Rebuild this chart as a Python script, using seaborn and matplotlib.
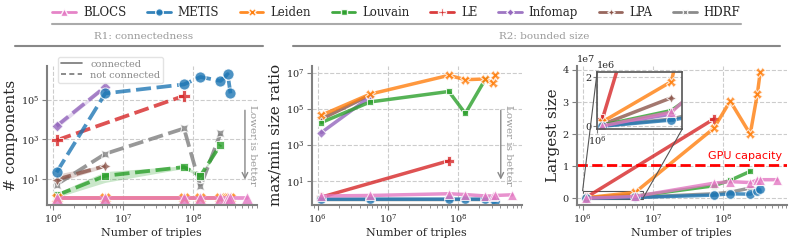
import numpy as np
import pandas as pd
import seaborn as sns
import matplotlib.pyplot as plt
from matplotlib.lines import Line2D
from mpl_toolkits.axes_grid1.inset_locator import mark_inset

# ---------------- data ----------------
triples = [1.13e6, 5.6e6, 7.4e7, 1.27e8, 2.45e8, 3.1e8, 3.4e8, 5.9e8]

methods = ['BLOCS', 'METIS', 'Leiden', 'Louvain', 'LE', 'Infomap', 'LPA', 'HDRF']
# which datasets each method could run on (index into triples)
runs_on = {
    'BLOCS':   [0, 1, 2, 3, 4, 5, 6, 7],
    'METIS':   [0, 1, 2, 3, 4, 5, 6],
    'Leiden':  [0, 1, 2, 3, 4, 5, 6],
    'Louvain': [0, 1, 2, 3, 4],
    'LE':      [0, 2],
    'Infomap': [0, 1],
    'LPA':     [0, 1],
    'HDRF':    [0, 1, 2, 3, 4],
}
connected = ['BLOCS', 'Leiden']

# R1: number of connected components
components = {
    'BLOCS':   [1, 1, 1, 1, 1, 1, 1, 1],
    'METIS':   [21, 2.2e5, 6.3e5, 1.5e6, 9.5e5, 2.1e6, 2.2e5],
    'Leiden':  [1, 1, 1, 1, 1, 1, 1],
    'Louvain': [1.4, 14, 39, 14, 540],
    'LE':      [900, 1.65e5],
    'Infomap': [4800, 4.8e5],
    'LPA':     [9, 45],
    'HDRF':    [5, 185, 3600, 4, 2000],
}
# spread over runs (min / max) where visible
components_low = {
    'Louvain': [1.1, 6.5, 33, 11, 480],
    'Infomap': [3500, 4.0e5],
    'LPA':     [6.3, 38],
}
components_high = {
    'Louvain': [1.9, 23, 45, 18, 620],
    'Infomap': [6500, 5.8e5],
    'LPA':     [17, 52],
}

# R2: max/min partition size ratio
size_ratio = {
    'BLOCS':   [1.5, 1.6, 2.0, 1.8, 1.5, 1.5, 1.6, 1.75],
    'METIS':   [1.0, 1.0, 1.0, 1.0, 1.0, 1.0, 0.8],
    'Leiden':  [4.6e4, 6.8e5, 7.5e6, 4.3e6, 4.7e6, 2.7e6, 8.0e6],
    'Louvain': [1.8e4, 2.5e5, 9.5e5, 5.7e4, 4.6e6],
    'LE':      [1.3, 135],
    'Infomap': [5e3, 4.8e5],
    'LPA':     [2.8e4, 6e5],
    'HDRF':    [1.0, 1.0, 1.0, 1.0, 1.0],
}

# R2: largest partition size
largest = {
    'BLOCS':   [0.02e6, 0.58e6, 4.7e6, 5.2e6, 4.9e6, 5.7e6, 5.8e6, 5.8e6],
    'METIS':   [0.01e6, 0.26e6, 1.0e6, 1.4e6, 1.3e6, 2.4e6, 2.8e6],
    'Leiden':  [0.19e6, 1.83e6, 21.8e6, 30.3e6, 20.0e6, 32.6e6, 39.3e6],
    'Louvain': [0.05e6, 0.65e6, 3.9e6, 5.6e6, 8.4e6],
    'LE':      [0.3e6, 24.7e6],
    'Infomap': [0.05e6, 0.5e6],
    'LPA':     [0.08e6, 1.17e6],
    'HDRF':    [0.02e6, 0.3e6, 1.4e6, 1.9e6, 3.2e6],
}
gpu_capacity = 1.05e7

# ---------------- styles ----------------
palette = {'BLOCS': '#e377c2', 'METIS': '#1f77b4', 'Leiden': '#ff7f0e', 'Louvain': '#2ca02c',
           'LE': '#d62728', 'Infomap': '#9467bd', 'LPA': '#8c564b', 'HDRF': '#7f7f7f'}
markers = {'BLOCS': '^', 'METIS': 'o', 'Leiden': 'X', 'Louvain': (4, 0, 45), 'LE': 'P',
           'Infomap': (4, 0, 0), 'LPA': (4, 1, 0), 'HDRF': (4, 1, 45)}
draw_order = methods[::-1]  # BLOCS ends up on top

sns.set_style('ticks')
plt.rcParams['font.family'] = ['DejaVu Serif']
plt.rcParams['axes.edgecolor'] = '#808080'
plt.rcParams['axes.linewidth'] = 1.5


def long_table(values):
    rows = []
    for m in methods:
        for i, v in zip(runs_on[m], values[m]):
            rows.append({'method': m, 'triples': triples[i], 'value': v})
    return pd.DataFrame(rows)


def draw(ax, values, dashed=False, lw=2.5, ms=7):
    df = long_table(values)
    if dashed:
        dashes = {m: '' if m in connected else (4, 1.5) for m in methods}
    else:
        dashes = {m: '' for m in methods}
    sns.lineplot(data=df, x='triples', y='value', hue='method', style='method',
                 hue_order=draw_order, style_order=draw_order, palette=palette,
                 markers=markers, dashes=dashes, lw=lw, markersize=ms, alpha=0.8,
                 legend=False, ax=ax, errorbar=None)


def tidy(ax):
    ax.grid(True, ls='--', lw=0.8, color='#cccccc')
    ax.tick_params(labelsize=7, length=3.5, color='#808080', pad=2)
    ax.tick_params(which='minor', length=2, color='#808080')
    sns.despine(ax=ax)
    ax.set_xlabel('Number of triples', fontsize=8, labelpad=2)


def lower_is_better(ax, x):
    ax.annotate('', xy=(x, 0.16), xytext=(x, 0.70), xycoords='axes fraction',
                arrowprops=dict(arrowstyle='->', color='#888888', lw=1))
    ax.text(x + 0.035, 0.43, 'Lower is better', transform=ax.transAxes, rotation=270,
            ha='center', va='center', fontsize=7.5, color='#999999')


fig = plt.figure(figsize=(7.93, 2.45), dpi=100)
bottom, top = 0.165, 0.731
ax1 = fig.add_axes([0.059, bottom, 0.265, top - bottom])
ax2 = fig.add_axes([0.393, bottom, 0.265, top - bottom])
ax3 = fig.add_axes([0.727, bottom, 0.265, top - bottom])

# ---- R1: components ----
draw(ax1, components, dashed=True, lw=2.7, ms=8)
for m in components_low:
    xs = [triples[i] for i in runs_on[m]]
    ax1.fill_between(xs, components_low[m], components_high[m], color=palette[m], alpha=0.25, lw=0)
ax1.set_xscale('log')
ax1.set_yscale('log')
ax1.set_xlim(8.2e5, 8.1e8)
ax1.set_ylim(0.48, 5.5e6)
ax1.set_yticks([1e1, 1e3, 1e5])
ax1.yaxis.set_minor_locator(plt.NullLocator())
ax1.set_ylabel('# components', fontsize=11, labelpad=2)
tidy(ax1)
lower_is_better(ax1, 0.943)
style_handles = [Line2D([], [], color='#777777', lw=1.2, label='connected'),
                 Line2D([], [], color='#777777', lw=1.2, ls=(0, (3, 2)), label='not connected')]
leg = ax1.legend(handles=style_handles, loc='upper left', bbox_to_anchor=(0.03, 1.1),
                 fontsize=7, labelcolor='#888888', frameon=True, fancybox=True,
                 handlelength=2.2, borderpad=0.3, labelspacing=0.2)
leg.get_frame().set_edgecolor('#dddddd')

# ---- R2: size ratio ----
draw(ax2, size_ratio, lw=2.5)
ax2.set_xscale('log')
ax2.set_yscale('log')
ax2.set_xlim(8.2e5, 8.1e8)
ax2.set_ylim(0.5, 2.5e7)
ax2.set_yticks([1e1, 1e3, 1e5, 1e7])
ax2.yaxis.set_minor_locator(plt.NullLocator())
ax2.set_ylabel('max/min size ratio', fontsize=11, labelpad=2)
tidy(ax2)
lower_is_better(ax2, 0.90)

# ---- R2: largest size ----
draw(ax3, largest, lw=2.5)
ax3.set_xscale('log')
ax3.set_xlim(8.2e5, 8.1e8)
ax3.axhline(gpu_capacity, color='red', ls='--', lw=2)
ax3.text(0.98, gpu_capacity + 0.1e7, 'GPU capacity', color='red', fontsize=8,
         family='DejaVu Sans', ha='right', va='bottom',
         transform=ax3.get_yaxis_transform())
ax3.set_ylabel('Largest size', fontsize=11, labelpad=2)
tidy(ax3)
ax3.yaxis.get_offset_text().set_fontsize(7)

axins = ax3.inset_axes([0.098, 0.544, 0.405, 0.412])
draw(axins, largest, lw=2.5)
axins.set_xscale('log')
axins.set_xlim(1.0e6, 7.2e6)
axins.set_ylim(-0.11e6, 2.22e6)
axins.set_yticks([0, 2e6])
axins.set_xticks([1e6])
axins.xaxis.set_minor_locator(plt.NullLocator())
axins.set_xlabel('')
axins.set_ylabel('')
axins.grid(True, ls='--', lw=0.8, color='#cccccc')
axins.tick_params(labelsize=7, length=3, color='#808080', pad=1)
axins.yaxis.get_offset_text().set_fontsize(7)
for s in axins.spines.values():
    s.set_color('#555555')
    s.set_linewidth(1.2)
mark_inset(ax3, axins, loc1=2, loc2=4, fc='none', ec='#555555', lw=0.8)

# ---- header: method legend and requirement labels ----
handles = [Line2D([], [], color=palette[m], marker=markers[m], lw=2, markersize=5.5,
                  markeredgecolor='white', alpha=0.9, label=m) for m in methods]
fig.legend(handles=handles, loc='center', bbox_to_anchor=(0.5, 0.95), ncol=8,
           frameon=False, fontsize=8.5, handlelength=2.0, columnspacing=1.75,
           handletextpad=0.6)
gray = '#aaaaaa'
fig.add_artist(Line2D([0.066, 0.934], [0.902, 0.902], color=gray, lw=1.5, transform=fig.transFigure))
fig.add_artist(Line2D([0.019, 0.332], [0.812, 0.812], color='#888888', lw=1.5, transform=fig.transFigure))
fig.add_artist(Line2D([0.369, 0.984], [0.812, 0.812], color='#888888', lw=1.5, transform=fig.transFigure))
fig.text(0.181, 0.849, 'R1: connectedness', ha='center', va='center', fontsize=7.5, color='#999999')
fig.text(0.686, 0.849, 'R2: bounded size', ha='center', va='center', fontsize=7.5, color='#999999')

fig.savefig('out.png', dpi=100)
